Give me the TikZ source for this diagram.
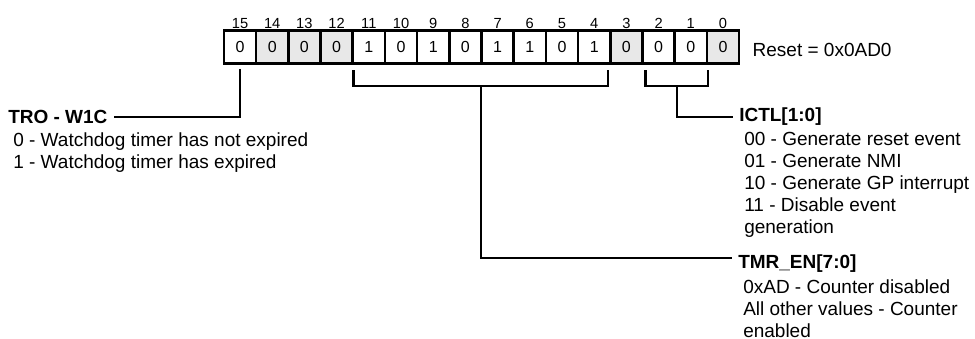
\documentclass[tikz,border=0pt]{standalone}
\usepackage{fontspec}
\setmainfont{Liberation Sans}
\usetikzlibrary{positioning}
\definecolor{cellgray}{RGB}{232,232,232}
\tikzset{
  cell/.style={draw, line width=2pt, minimum width=24.15pt, minimum height=24.75pt,
    inner sep=0pt, label distance=3pt, font=\fontsize{12}{14}\selectfont},
  bitnum/.style={inner sep=0pt, font=\fontsize{11}{13}\selectfont},
  txt/.style={inner sep=0pt, font=\fontsize{14.25}{16.5}\selectfont},
  fieldname/.style={txt, inner xsep=4.5pt, font=\fontsize{14.25}{16.5}\selectfont\bfseries},
  fielddesc/.style={txt, align=left, anchor=north west},
  wire/.style={line width=1.7pt}
}
\begin{document}
\begin{tikzpicture}[x=0.75pt, y=-0.75pt]
  \useasboundingbox (0,0) rectangle (975,339);
  % register cells, bit 15 down to bit 0
  \foreach \b/\v/\f in {15/0/white, 14/0/cellgray, 13/0/cellgray, 12/0/cellgray,
    11/1/white, 10/0/white, 9/1/white, 8/0/white, 7/1/white, 6/1/white,
    5/0/white, 4/1/white, 3/0/cellgray, 2/0/white, 1/0/white, 0/0/cellgray} {
    \pgfmathsetmacro{\x}{240+(15-\b)*32.2}
    \node[cell, fill=\f, label={[bitnum]above:\b}] (c\b) at (\x, 47) {\v};
  }
  \node[txt, right=9pt of c0, yshift=-2pt] (reset) {Reset = 0x0AD0};

  % TRO - W1C
  \node[fieldname, anchor=west] (tro) at (2, 117) {TRO - W1C};
  \node[fielddesc] (trodesc) at (13, 132) {0 - Watchdog timer has not expired\\1 - Watchdog timer has expired};
  \draw[wire] ([yshift=-3pt]c15.south) |- (tro.east);

  % TMR_EN[7:0]
  \draw[wire] ([xshift=1.5pt, yshift=-4pt]c11.south west)
    |- coordinate[pos=0.75] (tmrbr) ([xshift=-2.5pt, yshift=-16pt]c4.south east)
    -- ([xshift=-2.5pt, yshift=-4pt]c4.south east);
  \node[fieldname, anchor=west] (tmr) at (732, 264) {TMR\_EN[7:0]};
  \node[fielddesc] (tmrdesc) at (743, 279) {0xAD - Counter disabled\\All other values - Counter\\enabled};
  \draw[wire] (tmrbr) |- ([yshift=4.5pt]tmr.west);

  % ICTL[1:0]
  \draw[wire] ([xshift=3.3pt, yshift=-4pt]c2.south west)
    |- coordinate[pos=0.75] (ictlbr) ([yshift=-16pt]c1.south east)
    -- ([yshift=-4pt]c1.south east);
  \node[fieldname, anchor=west] (ictl) at (733, 117) {ICTL[1:0]};
  \node[fielddesc] (ictldesc) at (744, 132) {00 - Generate reset event\\01 - Generate NMI\\10 - Generate GP interrupt\\11 - Disable event\\generation};
  \draw[wire] (ictlbr) |- (ictl.west);
\end{tikzpicture}
\end{document}
